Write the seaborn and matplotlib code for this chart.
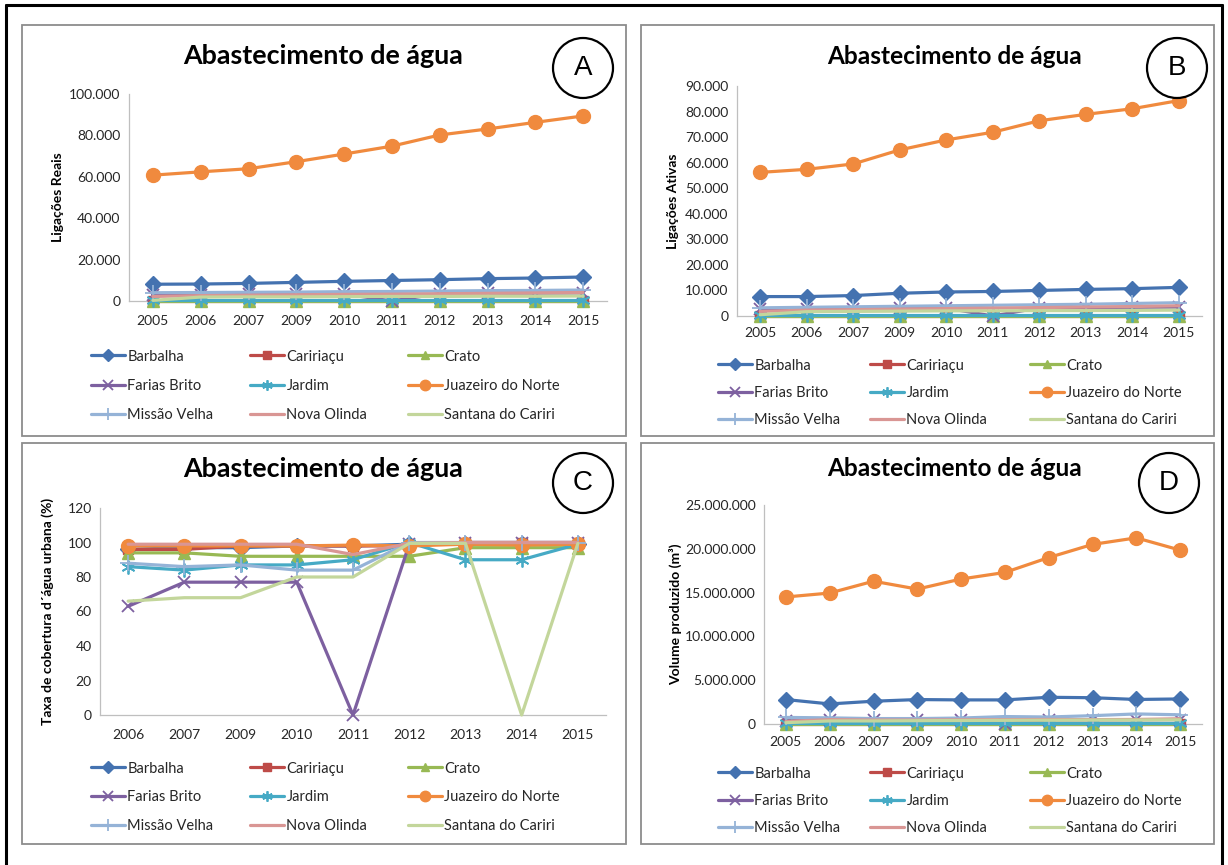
import numpy as np
import matplotlib
matplotlib.use("Agg")
import matplotlib.pyplot as plt
from matplotlib.patches import Rectangle, Ellipse
from matplotlib.lines import Line2D
from matplotlib.ticker import FuncFormatter
import seaborn as sns

sns.set_style("white")
plt.rcParams["font.family"] = ["Lato", "DejaVu Sans"]

# ---------------------------------------------------------------- data
years_ab = ["2005", "2006", "2007", "2009", "2010", "2011", "2012", "2013", "2014", "2015"]
years_c = ["2006", "2007", "2009", "2010", "2011", "2012", "2013", "2014", "2015"]

municipios = ["Barbalha", "Caririaçu", "Crato", "Farias Brito", "Jardim",
              "Juazeiro do Norte", "Missão Velha", "Nova Olinda", "Santana do Cariri"]

# A - Ligações Reais
barbalha_a = [8100, 8200, 8500, 9000, 9500, 9900, 10300, 10800, 11100, 11600]
caririacu_a = [0, 0, 0, 0, 0, 0, 0, 0, 0, 0]
crato_a = [0, 0, 0, 0, 0, 0, 0, 0, 0, 0]
farias_a = [3000, 3100, 3200, 3300, 3400, 0, 3600, 3700, 3800, 3900]
jardim_a = [300, 300, 300, 300, 300, 300, 300, 300, 300, 300]
juazeiro_a = [60800, 62400, 63900, 67300, 71000, 74800, 80200, 83100, 86300, 89400]
missao_a = [4000, 4100, 4200, 4300, 4500, 4600, 4800, 5000, 5100, 5300]
nova_a = [2200, 2600, 2800, 3000, 3200, 3300, 3500, 3700, 3900, 4100]
santana_a = [300, 1900, 2000, 2000, 2100, 2200, 2200, 2300, 2300, 2400]

# B - Ligações Ativas
barbalha_b = [7600, 7600, 8000, 8900, 9400, 9600, 10000, 10400, 10700, 11200]
caririacu_b = [0, 0, 0, 0, 0, 0, 0, 0, 0, 0]
crato_b = [0, 0, 0, 0, 0, 0, 0, 0, 0, 0]
farias_b = [2600, 2800, 2900, 3000, 3100, 0, 3200, 3300, 3400, 3500]
jardim_b = [200, 200, 200, 200, 200, 200, 200, 200, 200, 200]
juazeiro_b = [56200, 57400, 59500, 65000, 68900, 71900, 76400, 78900, 81100, 84300]
missao_b = [3200, 3400, 3600, 3800, 4000, 4200, 4400, 4600, 4900, 5200]
nova_b = [1800, 2300, 2500, 2700, 2900, 3100, 3300, 3500, 3700, 4000]
santana_b = [500, 1700, 1800, 1900, 2000, 2000, 2100, 2100, 2200, 2300]

# C - Taxa de cobertura de água urbana (%)
barbalha_c = [96, 97, 97, 98, 98, 99, 99, 99, 99]
caririacu_c = [96, 96, 98, 98, 98, 98, 100, 100, 100]
crato_c = [94, 94, 92, 92, 92, 92, 97, 97, 97]
farias_c = [63, 77, 77, 77, 0, 99, 100, 100, 100]
jardim_c = [86, 84, 87, 87, 90, 100, 90, 90, 99]
juazeiro_c = [98, 98, 98, 98, 98.5, 98, 99, 98.5, 99]
missao_c = [88, 86, 87, 84, 84, 100, 100, 100, 100]
nova_c = [99, 99, 99, 99, 93, 99.5, 100, 100, 100]
santana_c = [66, 68, 68, 80, 80, 99.5, 99.5, 0, 99.5]

# D - Volume produzido (m³)
barbalha_d = [2790000, 2290000, 2600000, 2790000, 2750000, 2750000, 3050000, 3000000, 2800000, 2860000]
caririacu_d = [0, 0, 0, 0, 0, 0, 0, 0, 0, 0]
crato_d = [0, 0, 0, 0, 0, 0, 0, 0, 0, 0]
farias_d = [380000, 400000, 400000, 420000, 430000, 50000, 450000, 470000, 480000, 500000]
jardim_d = [120000, 120000, 120000, 120000, 120000, 120000, 120000, 120000, 120000, 120000]
juazeiro_d = [14500000, 14950000, 16300000, 15400000, 16550000, 17300000, 19000000, 20500000, 21250000, 19850000]
missao_d = [750000, 700000, 620000, 620000, 680000, 850000, 800000, 950000, 1150000, 1050000]
nova_d = [300000, 500000, 450000, 450000, 480000, 500000, 520000, 500000, 520000, 600000]
santana_d = [150000, 350000, 350000, 380000, 400000, 420000, 430000, 450000, 450000, 480000]

series_a = dict(zip(municipios, [barbalha_a, caririacu_a, crato_a, farias_a, jardim_a,
                                 juazeiro_a, missao_a, nova_a, santana_a]))
series_b = dict(zip(municipios, [barbalha_b, caririacu_b, crato_b, farias_b, jardim_b,
                                 juazeiro_b, missao_b, nova_b, santana_b]))
series_c = dict(zip(municipios, [barbalha_c, caririacu_c, crato_c, farias_c, jardim_c,
                                 juazeiro_c, missao_c, nova_c, santana_c]))
series_d = dict(zip(municipios, [barbalha_d, caririacu_d, crato_d, farias_d, jardim_d,
                                 juazeiro_d, missao_d, nova_d, santana_d]))

# ---------------------------------------------------------------- styles
ASTERISK = (6, 2, 0)
STYLE = {
    "Barbalha":          dict(color="#4472B0", marker="D", ms=8.5, mew=1.0),
    "Caririaçu":         dict(color="#BE4B48", marker="s", ms=7.5, mew=1.0),
    "Crato":             dict(color="#98B954", marker="^", ms=8.5, mew=1.0),
    "Farias Brito":      dict(color="#7D60A0", marker="x", ms=9, mew=1.3),
    "Jardim":            dict(color="#46AAC5", marker=ASTERISK, ms=10, mew=1.3),
    "Juazeiro do Norte": dict(color="#F08A3E", marker="o", ms=10, mew=1.0),
    "Missão Velha":      dict(color="#95B3D7", marker="+", ms=11, mew=1.3),
    "Nova Olinda":       dict(color="#D99694", marker=None, ms=0, mew=0),
    "Santana do Cariri": dict(color="#C3D69B", marker=None, ms=0, mew=0),
}
LW = 2.3
TXT = "#262626"
AXC = "#BFBFBF"
LEG_FS = 10.5

W, H = 1228, 865


def fbox(l, t, r, b):
    return [l / W, 1 - b / H, (r - l) / W, (b - t) / H]


def thousands(v, pos):
    return f"{int(round(v)):,}".replace(",", ".")


fig = plt.figure(figsize=(W / 100, H / 100), dpi=100)
fig.patch.set_facecolor("white")


def draw_panel(box, years, series, ymax, ystep, ylabel, ylab_px, xpad):
    l, t, r, b = box
    ax = fig.add_axes(fbox(l, t, r, b))
    x = np.arange(len(years))
    for name, vals in series.items():
        st = STYLE[name]
        kw = dict(color=st["color"], linewidth=LW, label=name, clip_on=False,
                  solid_joinstyle="round", zorder=3)
        if st["marker"] is not None:
            kw.update(marker=st["marker"], markersize=st["ms"],
                      markeredgewidth=st["mew"], markeredgecolor=st["color"],
                      markerfacecolor=st["color"])
        sns.lineplot(x=x, y=vals, ax=ax, sort=False, estimator=None, **kw)
    if ax.get_legend() is not None:
        ax.get_legend().remove()
    ax.set_xlim(-0.5, len(years) - 0.5)
    ax.set_ylim(0, ymax)
    ax.set_yticks(np.arange(0, ymax + ystep / 2, ystep))
    ax.yaxis.set_major_formatter(FuncFormatter(thousands))
    ax.set_xticks(x)
    ax.set_xticklabels(years)
    for s in ["top", "right"]:
        ax.spines[s].set_visible(False)
    for s in ["left", "bottom"]:
        ax.spines[s].set_color(AXC)
        ax.spines[s].set_linewidth(0.9)
    ax.tick_params(axis="y", length=0, labelsize=10, colors=TXT, pad=6)
    ax.tick_params(axis="x", length=0, labelsize=10, colors=TXT, pad=xpad)
    ax.set_xlabel("")
    ax.set_ylabel(ylabel, fontsize=10, fontweight="bold", color="black")
    ax.yaxis.set_label_coords((ylab_px + 7 - l) / (r - l), 0.5)
    return ax


def panel_legend(ax, x_cols, row1, pitch):
    handles, labels = ax.get_legend_handles_labels()
    fs_px = LEG_FS * 100 / 72
    row_h = 12.2 * LEG_FS / 10
    ls = (pitch - row_h) / fs_px
    for c, xc in enumerate(x_cols):
        idx = [c, c + 3, c + 6]
        fig.legend([handles[i] for i in idx], [labels[i] for i in idx],
                   loc="upper left", bbox_to_anchor=(xc / W, 1 - (row1 - row_h / 2) / H),
                   frameon=False, fontsize=LEG_FS, handlelength=2.3, handletextpad=0.2,
                   labelspacing=ls, borderpad=0, borderaxespad=0, labelcolor=TXT,
                   markerscale=0.75)


def frame_and_title(rect, title_xy, title_size, letter, circ_xy):
    l, t, r, b = rect
    fig.add_artist(Rectangle((l / W, 1 - b / H), (r - l) / W, (b - t) / H,
                             transform=fig.transFigure, fill=False,
                             edgecolor="#8C8C8C", linewidth=1.3, zorder=1))
    fig.text(title_xy[0] / W, 1 - title_xy[1] / H, "Abastecimento de água",
             ha="center", va="center", fontsize=title_size, fontweight="bold",
             color="black")
    cx, cy = circ_xy
    rad = 30
    fig.add_artist(Ellipse((cx / W, 1 - cy / H), 2 * rad / W, 2 * rad / H,
                           transform=fig.transFigure, facecolor="white",
                           edgecolor="black", linewidth=1.6, zorder=5))
    fig.text(cx / W, 1 - cy / H, letter, ha="center", va="center",
             family="Liberation Sans", fontsize=20, color="black", zorder=6)


# panel frames, titles and letter badges
frame_and_title((22, 25, 626, 436), (323, 56), 19.4, "A", (583, 68))
frame_and_title((641, 25, 1214, 436), (955, 56), 17.6, "B", (1177, 68))
frame_and_title((22, 443, 626, 844), (323, 469), 19.4, "C", (583, 483))
frame_and_title((641, 443, 1214, 844), (955, 469), 17.6, "D", (1169, 483))

ax_a = draw_panel((129, 94, 607, 301), years_ab, series_a, 100000, 20000,
                  "Ligações Reais", 57, 10)
ax_b = draw_panel((737, 86, 1202, 316), years_ab, series_b, 90000, 10000,
                  "Ligações Ativas", 672, 8)
ax_c = draw_panel((100, 508, 606, 715), years_c, series_c, 120, 20,
                  "Taxa de cobertura d´água urbana (%)", 47, 10)
ax_d = draw_panel((764, 505, 1202, 724), years_ab, series_d, 25000000, 5000000,
                  "Volume produzido (m³)", 675, 9)

panel_legend(ax_a, (91, 250, 408), 356, 28)
panel_legend(ax_b, (718, 870, 1030), 365, 26)
panel_legend(ax_c, (91, 250, 408), 768, 27.5)
panel_legend(ax_d, (718, 870, 1030), 773, 26)

# outer black border (open at the bottom)
for xs, ys in [((6, 1222), (5, 5)), ((6, 6), (5, 865)), ((1222, 1222), (5, 865))]:
    fig.add_artist(Line2D([v / W for v in xs], [1 - v / H for v in ys],
                          transform=fig.transFigure, color="black", linewidth=2.2))

fig.savefig("out.png", dpi=100, facecolor="white")
